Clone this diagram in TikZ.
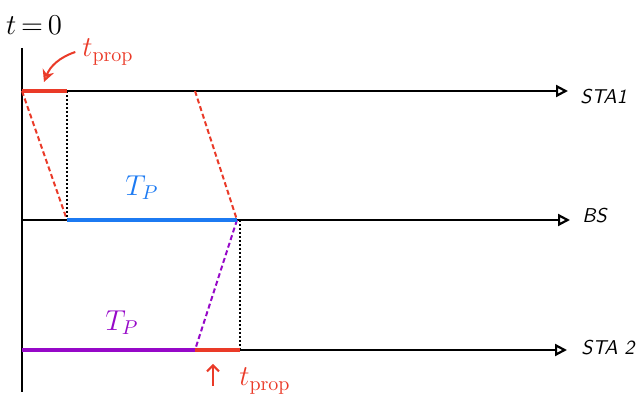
\documentclass[tikz,border=0pt]{standalone}
\usepackage{tikz}
\usetikzlibrary{arrows.meta,positioning}
\definecolor{rougeprop}{RGB}{234,58,40}
\definecolor{bleutp}{RGB}{28,122,242}
\definecolor{violettp}{RGB}{150,8,200}

\begin{document}
\begin{tikzpicture}[x=0.5pt,y=-0.5pt,font=\Large,
	axe/.style={line width=0.8pt},
	fleche/.style={axe,-{Triangle[open,length=6pt,width=6pt,line width=1.1pt]}},
	segment/.style={line width=2pt},
	trajet/.style={line width=1pt,dash pattern=on 2.5pt off 1.5pt},
	repere/.style={line width=0.7pt,dash pattern=on 1pt off 1pt},
	station/.style={font=\normalsize\sffamily\itshape,inner sep=0pt,anchor=west}]
	\useasboundingbox (0,0) rectangle (643,405);
	
	%% axe du temps
	\coordinate (haut) at (22,48);
	\coordinate (bas) at (22,392);
	\draw[axe] (haut) -- (bas);
	\node (tzero) at (34,25) {$t\,{=}\,0$};
	
	%% lignes des stations
	\coordinate (sta1deb) at (22,91);
	\coordinate (sta1fin) at (568,91);
	\coordinate (bsdeb) at (22,220);
	\coordinate (bsfin) at (570,220);
	\coordinate (sta2deb) at (22,350);
	\coordinate (sta2fin) at (567,350);
	\draw[fleche] (sta1deb) -- (sta1fin);
	\draw[fleche] (bsdeb) -- (bsfin);
	\draw[fleche] (sta2deb) -- (sta2fin);
	\node[station,right=6pt of sta1fin,yshift=-3pt] (lsta1) {STA1};
	\node[station,right=6pt of bsfin,yshift=2pt] (lbs) {BS};
	\node[station,right=7pt of sta2fin,yshift=1pt] (lsta2) {STA 2};
	
	%% instants
	\coordinate (a1) at (67,91);
	\coordinate (b1) at (67,220);
	\coordinate (a2) at (195,91);
	\coordinate (b2) at (237,220);
	\coordinate (b3) at (240,220);
	\coordinate (s1) at (195,350);
	\coordinate (s2) at (240,350);
	
	%% trajets
	\draw[trajet,rougeprop] (sta1deb) -- (b1);
	\draw[trajet,rougeprop] (a2) -- (b2);
	\draw[trajet,violettp] (b2) -- (s1);
	\draw[repere] (a1) -- (b1);
	\draw[repere] (b3) -- (s2);
	
	%% durees
	\draw[segment,rougeprop] (sta1deb) -- (a1);
	\draw[segment,bleutp] (b1) -- (b2);
	\draw[segment,violettp] (sta2deb) -- (s1);
	\draw[segment,rougeprop] (s1) -- (s2);
	\node[bleutp] (tpbs) at (142,188) {$T_P$};
	\node[violettp] (tpsta2) at (122,323) {$T_P$};
	
	%% t_prop
	\node[rougeprop] (tprop1) at (108,52) {$t_{\mathrm{prop}}$};
	\coordinate (pointe1) at (44,82);
	\draw[rougeprop,line width=1pt,-{Stealth[open,length=6pt,width=6pt]}] (tprop1.west) to[bend right=25] (pointe1);
	\node[rougeprop] (tprop2) at (265,381) {$t_{\mathrm{prop}}$};
	\coordinate (pied2) at (213,386);
	\coordinate (pointe2) at (213,364);
	\draw[rougeprop,line width=1pt,-{Straight Barb[length=3pt]}] (pied2) -- (pointe2);
\end{tikzpicture}
\end{document}
